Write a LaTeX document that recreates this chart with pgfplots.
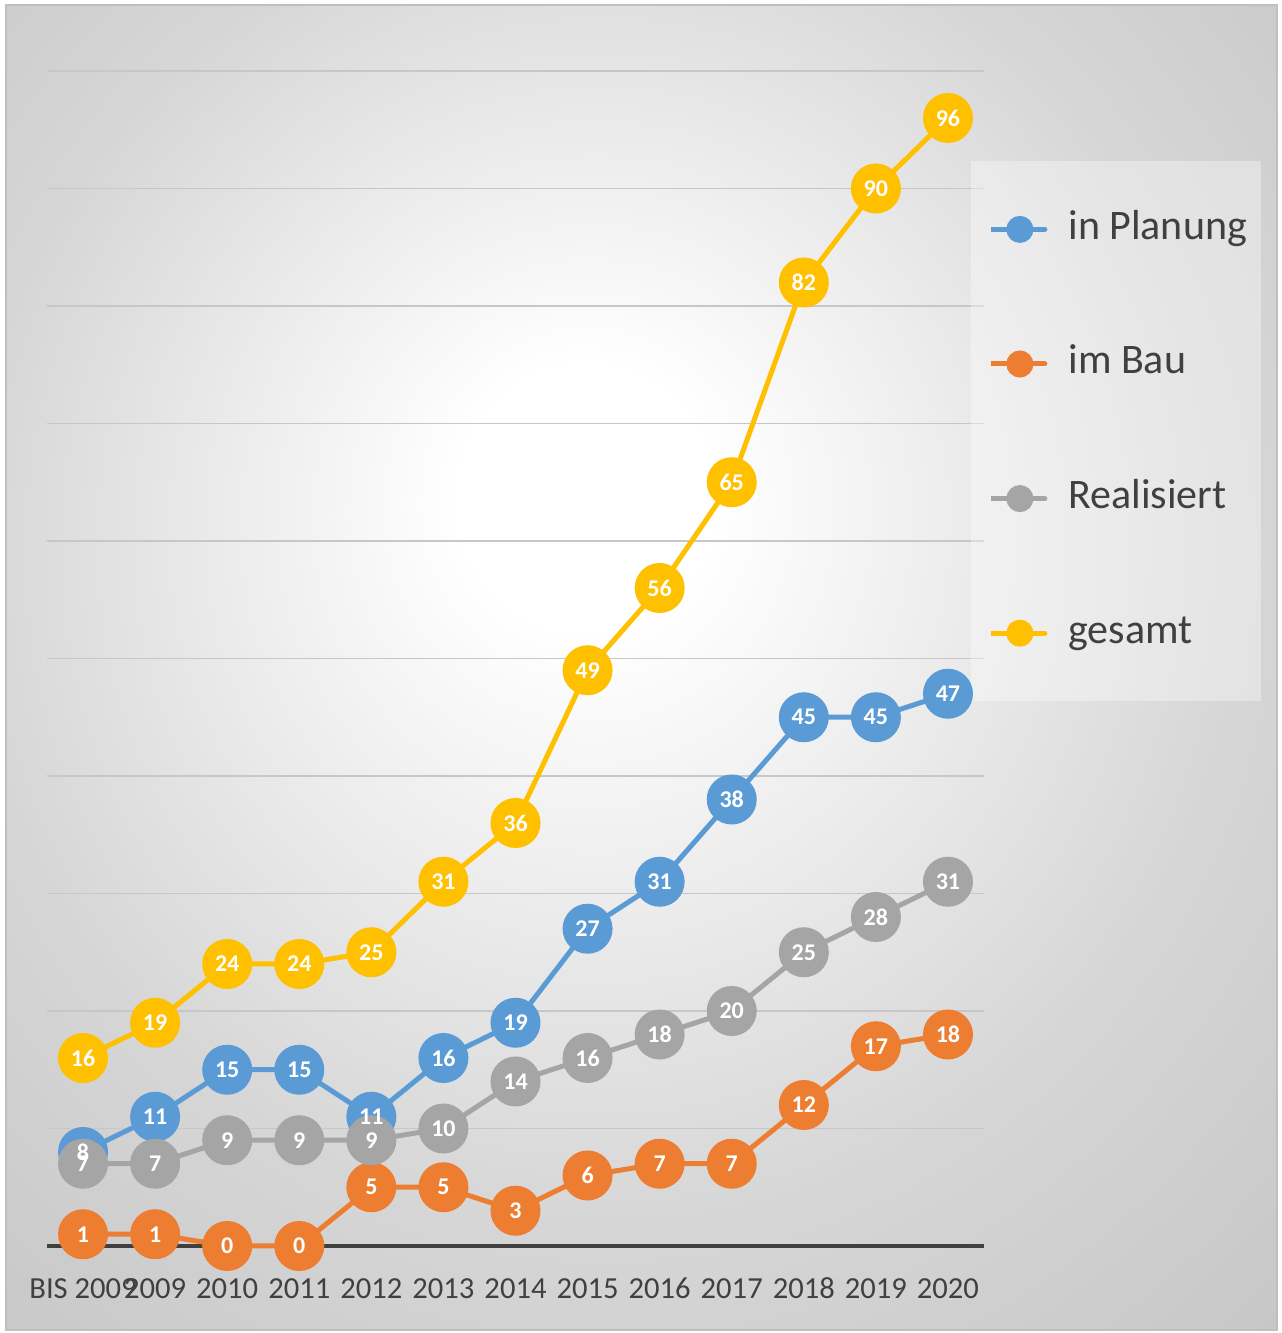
\documentclass[border=0pt]{standalone}
\usepackage{fontspec}
\setmainfont{Carlito}
\usepackage{pgfplots}
\usepackage{pgfplotstable}
\pgfplotsset{compat=1.18}
\definecolor{cBlue}{HTML}{5B9BD5}
\definecolor{cOrange}{HTML}{ED7D31}
\definecolor{cGray}{HTML}{A5A5A5}
\definecolor{cGold}{HTML}{FFC000}
\pgfdeclareradialshading{bgshade}{\pgfpoint{-2.4bp}{7bp}}{color(0bp)=(white); color(5bp)=(white); color(25bp)=(black!16); color(40bp)=(black!23); color(60bp)=(black!25)}
\pgfplotstableread{
x plan bau real ges
0 8 1 7 16
1 11 1 7 19
2 15 0 9 24
3 15 0 9 24
4 11 5 9 25
5 16 5 10 31
6 19 3 14 36
7 27 6 16 49
8 31 7 18 56
9 38 7 20 65
10 45 12 25 82
11 45 17 28 90
12 47 18 31 96
}\data
\begin{document}
\begin{tikzpicture}
\useasboundingbox (0pt,0pt) rectangle (640.5pt,666.5pt);
\fill[white] (0pt,0pt) rectangle (640.5pt,666.5pt);
\shade[shading=bgshade] (3pt,1.5pt) rectangle (638.5pt,664pt);
\draw[black!25, line width=1pt] (3pt,1.5pt) rectangle (638.5pt,664pt);
\begin{axis}[
  at={(23.5pt,43.5pt)}, anchor=south west, scale only axis,
  width=468.5pt, height=587.5pt,
  xmin=-0.5, xmax=12.5, ymin=0, ymax=100,
  axis line style={draw=none},
  xtick={0,...,12},
  xticklabels={BIS 2009,2009,2010,2011,2012,2013,2014,2015,2016,2017,2018,2019,2020},
  ytick={10,20,...,100}, yticklabels={},
  major tick length=0pt,
  ymajorgrids, grid style={black!22, line width=0.75pt},
  extra y ticks={0}, extra y tick labels={},
  extra y tick style={grid style={black!75, line width=2pt}},
  xticklabel style={font=\fontsize{15.3}{18}\selectfont, text=black!75, anchor=base, yshift=-26.5pt},
  clip=false,
  /pgf/number format/assume math mode=true,
  every node near coord/.append style={anchor=center, font=\fontsize{12}{14}\selectfont\bfseries, text=white, inner sep=0pt},
  legend style={at={(rel axis cs:0.9861,0.9234)}, anchor=north west, draw=none, fill=none,
    inner xsep=8.5pt, inner ysep=24pt, /tikz/row sep=47.3pt, /tikz/column sep=10.5pt,
    font=\fontsize{21}{25}\selectfont, text=black!75,
    nodes={inner sep=0pt, text height=15pt, text depth=5pt}},
  legend cell align=left,
  legend image code/.code={\path (0pt,0pt) -- (27pt,0pt);
    \draw[#1, mark=none, line width=2.5pt, line cap=round] (2pt,0pt) -- (27pt,0pt);
    \fill[#1, mark=none] (14.5pt,0pt) circle (5.5pt);},
]
\fill[white, fill opacity=0.35] (rel axis cs:0.9861,0.9234) rectangle ([xshift=145pt,yshift=-270pt]rel axis cs:0.9861,0.9234);
\addplot[color=cBlue, line width=2.5pt, mark=*, mark size=11.25pt] table[x=x,y=plan]{\data};
\addlegendentry{in Planung}
\addplot[color=cOrange, line width=2.5pt, mark=*, mark size=11.25pt] table[x=x,y=bau]{\data};
\addlegendentry{im Bau}
\addplot[color=cGray, line width=2.5pt, mark=*, mark size=11.25pt] table[x=x,y=real]{\data};
\addlegendentry{Realisiert}
\addplot[color=cGold, line width=2.5pt, mark=*, mark size=11.25pt] table[x=x,y=ges]{\data};
\addlegendentry{gesamt}
\addplot[draw=none, forget plot, nodes near coords, point meta=y] table[x=x,y=plan]{\data};
\addplot[draw=none, forget plot, nodes near coords, point meta=y] table[x=x,y=bau]{\data};
\addplot[draw=none, forget plot, nodes near coords, point meta=y] table[x=x,y=real]{\data};
\addplot[draw=none, forget plot, nodes near coords, point meta=y] table[x=x,y=ges]{\data};
\end{axis}
\end{tikzpicture}
\end{document}
